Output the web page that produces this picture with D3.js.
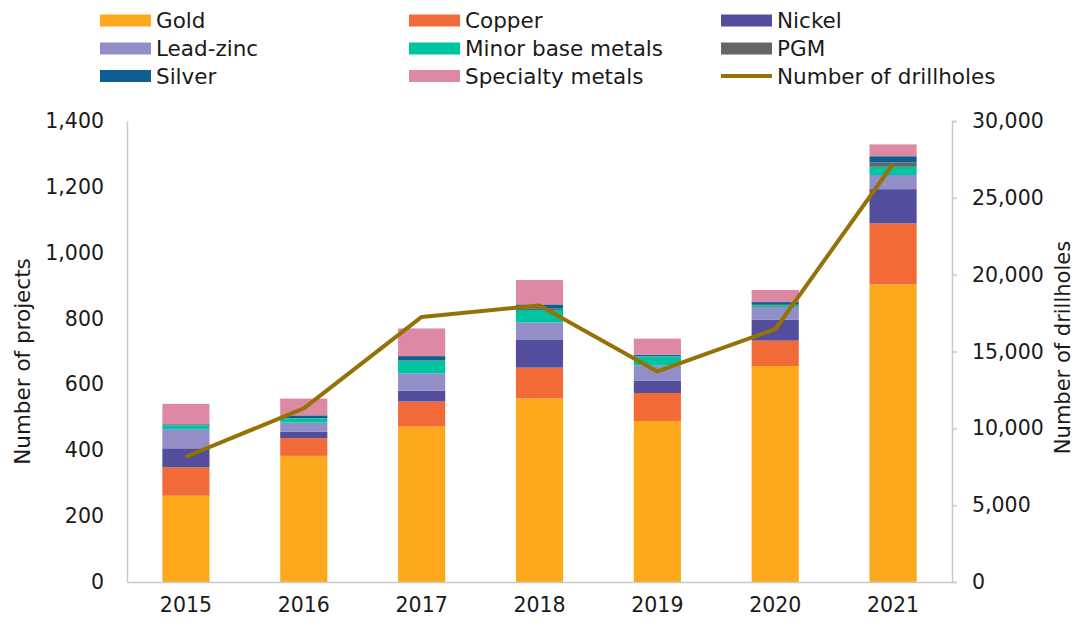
<!DOCTYPE html>
<html>
<head>
<meta charset="utf-8">
<script src="https://cdn.jsdelivr.net/npm/d3@7/dist/d3.min.js"></script>
<style>
  html, body { margin: 0; padding: 0; background: #ffffff; }
  svg { display: block; }
  text { font-family: "DejaVu Sans", "Liberation Sans", sans-serif; fill: #1a1a1a; }
</style>
</head>
<body>
<svg id="chart" width="1077" height="633"></svg>
<script>
// ---- Data ----
const years = ["2015", "2016", "2017", "2018", "2019", "2020", "2021"];
const gold      = [262, 383, 472, 558, 489, 656, 904];
const copper    = [86, 54, 76, 93, 85, 77, 185];
const nickel    = [58, 20, 33, 84, 38, 63, 104];
const leadZinc  = [58, 27, 53, 53, 45, 39, 43];
const minorBase = [12, 13, 38, 38, 28, 6, 25];
const pgm       = [1, 1, 2, 5, 1, 3, 13];
const silver    = [2, 8, 12, 12, 4, 6, 19];
const specialty = [62, 51, 84, 74, 49, 37, 36];
const drillholes = [8150, 11300, 17250, 18000, 13700, 16450, 27200];

const seriesNames = ["Gold", "Copper", "Nickel", "Lead-zinc", "Minor base metals", "PGM", "Silver", "Specialty metals"];
const seriesValues = [gold, copper, nickel, leadZinc, minorBase, pgm, silver, specialty];
const seriesColors = ["#FEA91B", "#F26A37", "#534D9D", "#928EC7", "#00C4A0", "#666666", "#0D5E92", "#DD89A3"];
const lineName = "Number of drillholes";
const lineColor = "#967106";

const leftTicks = [0, 200, 400, 600, 800, 1000, 1200, 1400];
const rightTicks = [0, 5000, 10000, 15000, 20000, 25000, 30000];

// ---- Layout ----
const svg = d3.select("#chart");
const plot = { left: 127, right: 952, top: 121, bottom: 582 };
const axisColor = "#c9c9c9";

const x = d3.scaleBand().domain(years).range([plot.left, plot.right]).paddingInner(0.6).paddingOuter(0.3);
const y = d3.scaleLinear().domain([0, 1400]).range([plot.bottom, plot.top]);
const y2 = d3.scaleLinear().domain([0, 30000]).range([plot.bottom, plot.top]);

const table = years.map((yr, i) => {
  const row = { year: yr };
  seriesNames.forEach((n, k) => row[n] = seriesValues[k][i]);
  return row;
});
const stacked = d3.stack().keys(seriesNames)(table);

// ---- Bars ----
const gBars = svg.append("g");
stacked.forEach((layer, k) => {
  gBars.selectAll(null).data(layer).enter().append("rect")
    .attr("x", d => x(d.data.year))
    .attr("width", x.bandwidth())
    .attr("y", d => y(d[1]))
    .attr("height", d => Math.max(0, y(d[0]) - y(d[1])))
    .attr("fill", seriesColors[k]);
});

// ---- Axes ----
const fmt = d3.format(",");
const leftAxis = d3.axisLeft(y).tickValues(leftTicks).tickFormat(fmt).tickSize(0).tickPadding(23);
const gL = svg.append("g").attr("transform", `translate(${plot.left},0)`).call(leftAxis);
gL.select(".domain").attr("stroke", axisColor).attr("stroke-width", 1.5);
gL.selectAll("text").style("font-size", "20.5px").style("font-family", "DejaVu Sans").attr("fill", "#1a1a1a");

const rightAxis = d3.axisRight(y2).tickValues(rightTicks).tickFormat(fmt).tickSize(5).tickPadding(15);
const gR = svg.append("g").attr("transform", `translate(${plot.right},0)`).call(rightAxis);
gR.select(".domain").attr("stroke", axisColor).attr("stroke-width", 1.5);
gR.selectAll(".tick line").attr("stroke", axisColor).attr("stroke-width", 1.5);
gR.selectAll("text").style("font-size", "20.5px").style("font-family", "DejaVu Sans").attr("fill", "#1a1a1a");

const bottomAxis = d3.axisBottom(x).tickSize(0).tickPadding(15);
const gB = svg.append("g").attr("transform", `translate(0,${plot.bottom})`).call(bottomAxis);
gB.select(".domain").attr("stroke", axisColor).attr("stroke-width", 1.5);
gB.selectAll("text").style("font-size", "20.5px").style("font-family", "DejaVu Sans").attr("fill", "#1a1a1a");

// ---- Line ----
const line = d3.line()
  .x((d, i) => x(years[i]) + x.bandwidth() / 2)
  .y(d => y2(d));
svg.append("path").datum(drillholes)
  .attr("d", line)
  .attr("fill", "none")
  .attr("stroke", lineColor)
  .attr("stroke-width", 4)
  .attr("stroke-linejoin", "round");

// ---- Axis titles ----
svg.append("text")
  .attr("transform", `translate(30,${(plot.top + plot.bottom) / 2 + 10}) rotate(-90)`)
  .attr("text-anchor", "middle")
  .style("font-size", "21.5px")
  .text("Number of projects");
svg.append("text")
  .attr("transform", `translate(1070,${(plot.top + plot.bottom) / 2 - 4}) rotate(-90)`)
  .attr("text-anchor", "middle")
  .style("font-size", "21px")
  .text("Number of drillholes");

// ---- Legend ----
const legendItems = seriesNames.map((n, k) => ({ name: n, color: seriesColors[k], type: "rect" }));
legendItems.push({ name: lineName, color: lineColor, type: "line" });
const colX = [100, 409, 721];
const rowY = [20.5, 48.5, 76];
const gLeg = svg.append("g");
legendItems.forEach((it, i) => {
  const c = i % 3, r = Math.floor(i / 3);
  const gx = colX[c], gy = rowY[r];
  if (it.type === "rect") {
    gLeg.append("rect").attr("x", gx).attr("y", gy - 6).attr("width", 51).attr("height", 12).attr("fill", it.color);
  } else {
    gLeg.append("line").attr("x1", gx).attr("x2", gx + 51).attr("y1", gy).attr("y2", gy)
      .attr("stroke", it.color).attr("stroke-width", 4);
  }
  gLeg.append("text").attr("x", gx + 56).attr("y", gy).attr("dy", "0.36em")
    .style("font-size", "21.5px").text(it.name);
});
</script>
</body>
</html>
